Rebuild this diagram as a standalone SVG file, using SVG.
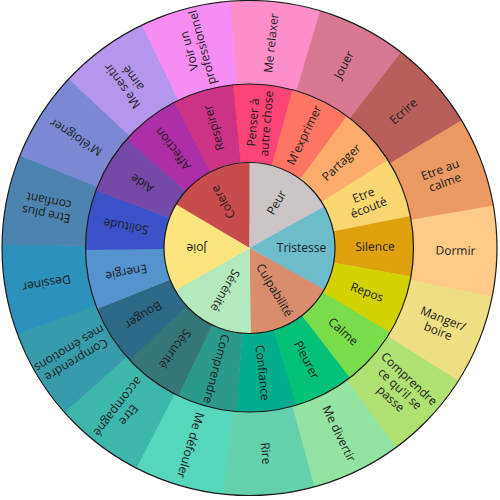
<svg xmlns="http://www.w3.org/2000/svg" width="500" height="500" viewBox="0 0 500 500">
<style>
  circle.i{fill:none;stroke-width:85.5}
  circle.m{fill:none;stroke-width:78.5;stroke-dasharray:46.6 800}
  circle.o{fill:none;stroke-width:83.5;stroke-dasharray:76.6 1300}
  text{font-family:"Open Sans","Noto Sans",sans-serif;font-size:12px;fill:#1b1b1b;text-anchor:middle}
  .ln{fill:none;stroke:#1b1b1b;stroke-width:1.2}
</style>
<rect width="500" height="500" fill="#ffffff"/>

<g id="outer-ring">
  <g id="me-relaxer"><circle class="o" cx="249.5" cy="248" r="205.75" stroke="#fc8fc9" transform="rotate(-94.6 249.5 248)"/><text transform="translate(249.5 248) rotate(-84.01) translate(206 0)" y="4.3">Me relaxer</text></g>
  <g id="jouer"><circle class="o" cx="249.5" cy="248" r="205.75" stroke="#d87893" transform="rotate(-73.42 249.5 248)"/><text transform="translate(249.5 248) rotate(-62.83) translate(206 0)" y="4.3">Jouer</text></g>
  <g id="ecrire"><circle class="o" cx="249.5" cy="248" r="205.75" stroke="#b85f5b" transform="rotate(-52.25 249.5 248)"/><text transform="translate(249.5 248) rotate(-41.66) translate(206 0)" y="4.3">Ecrire</text></g>
  <g id="etre-au-calme"><circle class="o" cx="249.5" cy="248" r="205.75" stroke="#ea9a62" transform="rotate(-31.07 249.5 248)"/><text transform="translate(249.5 248) rotate(-20.48) translate(206 0)"><tspan x="0" y="-2.45">Etre au</tspan><tspan x="0" y="11.05">calme</tspan></text></g>
  <g id="dormir"><circle class="o" cx="249.5" cy="248" r="205.75" stroke="#fdca88" transform="rotate(-9.89 249.5 248)"/><text transform="translate(249.5 248) rotate(0.7) translate(206 0)" y="4.3">Dormir</text></g>
  <g id="manger-boire"><circle class="o" cx="249.5" cy="248" r="205.75" stroke="#efdf84" transform="rotate(11.28 249.5 248)"/><text transform="translate(249.5 248) rotate(21.87) translate(206 0)"><tspan x="0" y="-2.45">Manger/</tspan><tspan x="0" y="11.05">boire</tspan></text></g>
  <g id="comprendre-ce-qu-il-se-passe"><circle class="o" cx="249.5" cy="248" r="205.75" stroke="#b1e173" transform="rotate(32.46 249.5 248)"/><text transform="translate(249.5 248) rotate(43.05) translate(206 0)"><tspan x="0" y="-9.2">Comprendre</tspan><tspan x="0" y="4.3">ce qu'il se</tspan><tspan x="0" y="17.8">passe</tspan></text></g>
  <g id="me-divertir"><circle class="o" cx="249.5" cy="248" r="205.75" stroke="#93e3a2" transform="rotate(53.64 249.5 248)"/><text transform="translate(249.5 248) rotate(64.23) translate(206 0)" y="4.3">Me divertir</text></g>
  <g id="rire"><circle class="o" cx="249.5" cy="248" r="205.75" stroke="#64d1ac" transform="rotate(74.81 249.5 248)"/><text transform="translate(249.5 248) rotate(85.4) translate(206 0)" y="4.3">Rire</text></g>
  <g id="me-defouler"><circle class="o" cx="249.5" cy="248" r="205.75" stroke="#56d7bc" transform="rotate(95.99 249.5 248)"/><text transform="translate(249.5 248) rotate(106.58) translate(206 0)" y="4.3">Me défouler</text></g>
  <g id="etre-accompagne"><circle class="o" cx="249.5" cy="248" r="205.75" stroke="#3eb7ab" transform="rotate(117.16 249.5 248)"/><text transform="translate(249.5 248) rotate(127.75) translate(206 0)"><tspan x="0" y="-2.45">Etre</tspan><tspan x="0" y="11.05">accompagné</tspan></text></g>
  <g id="comprendre-mes-emotions"><circle class="o" cx="249.5" cy="248" r="205.75" stroke="#379bab" transform="rotate(138.34 249.5 248)"/><text transform="translate(249.5 248) rotate(148.93) translate(206 0)"><tspan x="0" y="-2.45">Comprendre</tspan><tspan x="0" y="11.05">mes émotions</tspan></text></g>
  <g id="dessiner"><circle class="o" cx="249.5" cy="248" r="205.75" stroke="#2c91bb" transform="rotate(159.52 249.5 248)"/><text transform="translate(249.5 248) rotate(170.11) translate(206 0)" y="4.3">Dessiner</text></g>
  <g id="etre-plus-confiant"><circle class="o" cx="249.5" cy="248" r="205.75" stroke="#4d83b0" transform="rotate(180.69 249.5 248)"/><text transform="translate(249.5 248) rotate(191.28) translate(206 0)"><tspan x="0" y="-2.45">Etre plus</tspan><tspan x="0" y="11.05">confiant</tspan></text></g>
  <g id="m-eloigner"><circle class="o" cx="249.5" cy="248" r="205.75" stroke="#7b89d5" transform="rotate(201.87 249.5 248)"/><text transform="translate(249.5 248) rotate(212.46) translate(206 0)" y="4.3">M'éloigner</text></g>
  <g id="me-sentir-aime"><circle class="o" cx="249.5" cy="248" r="205.75" stroke="#b497ed" transform="rotate(223.05 249.5 248)"/><text transform="translate(249.5 248) rotate(233.64) translate(206 0)"><tspan x="0" y="-2.45">Me sentir</tspan><tspan x="0" y="11.05">aimé</tspan></text></g>
  <g id="voir-un-professionnel"><circle class="o" cx="249.5" cy="248" r="205.75" stroke="#f68ef6" transform="rotate(244.22 249.5 248)"/><text transform="translate(249.5 248) rotate(254.81) translate(206 0)"><tspan x="0" y="-2.45">Voir un</tspan><tspan x="0" y="11.05">professionnel</tspan></text></g>
</g>

<g id="middle-ring">
  <g id="penser-a-autre-chose"><circle class="m" cx="249.5" cy="248" r="124.75" stroke="#fd4477" transform="rotate(-96 249.5 248)"/><text transform="translate(249.5 248) rotate(-85.41) translate(125.5 0)"><tspan x="0" y="-2.45">Penser à</tspan><tspan x="0" y="11.05">autre chose</tspan></text></g>
  <g id="m-exprimer"><circle class="m" cx="249.5" cy="248" r="124.75" stroke="#ff7563" transform="rotate(-74.82 249.5 248)"/><text transform="translate(249.5 248) rotate(-64.23) translate(125.5 0)" y="4.3">M'exprimer</text></g>
  <g id="partager"><circle class="m" cx="249.5" cy="248" r="124.75" stroke="#fdac6d" transform="rotate(-53.65 249.5 248)"/><text transform="translate(249.5 248) rotate(-43.06) translate(125.5 0)" y="4.3">Partager</text></g>
  <g id="etre-ecoute"><circle class="m" cx="249.5" cy="248" r="124.75" stroke="#fbd771" transform="rotate(-32.47 249.5 248)"/><text transform="translate(249.5 248) rotate(-21.88) translate(125.5 0)"><tspan x="0" y="-2.45">Etre</tspan><tspan x="0" y="11.05">écouté</tspan></text></g>
  <g id="silence"><circle class="m" cx="249.5" cy="248" r="124.75" stroke="#e0a10f" transform="rotate(-11.29 249.5 248)"/><text transform="translate(249.5 248) rotate(-0.7) translate(125.5 0)" y="4.3">Silence</text></g>
  <g id="repos"><circle class="m" cx="249.5" cy="248" r="124.75" stroke="#d3d100" transform="rotate(9.88 249.5 248)"/><text transform="translate(249.5 248) rotate(20.47) translate(125.5 0)" y="4.3">Repos</text></g>
  <g id="calme"><circle class="m" cx="249.5" cy="248" r="124.75" stroke="#79dc4a" transform="rotate(31.06 249.5 248)"/><text transform="translate(249.5 248) rotate(41.65) translate(125.5 0)" y="4.3">Calme</text></g>
  <g id="pleurer"><circle class="m" cx="249.5" cy="248" r="124.75" stroke="#03c277" transform="rotate(52.24 249.5 248)"/><text transform="translate(249.5 248) rotate(62.83) translate(125.5 0)" y="4.3">Pleurer</text></g>
  <g id="confiance"><circle class="m" cx="249.5" cy="248" r="124.75" stroke="#03ad8e" transform="rotate(73.41 249.5 248)"/><text transform="translate(249.5 248) rotate(84) translate(125.5 0)" y="4.3">Confiance</text></g>
  <g id="comprendre"><circle class="m" cx="249.5" cy="248" r="124.75" stroke="#2b9a8b" transform="rotate(94.59 249.5 248)"/><text transform="translate(249.5 248) rotate(105.18) translate(125.5 0)" y="4.3">Comprendre</text></g>
  <g id="securite"><circle class="m" cx="249.5" cy="248" r="124.75" stroke="#357677" transform="rotate(115.76 249.5 248)"/><text transform="translate(249.5 248) rotate(126.35) translate(125.5 0)" y="4.3">Sécurité</text></g>
  <g id="bouger"><circle class="m" cx="249.5" cy="248" r="124.75" stroke="#2c6a88" transform="rotate(136.94 249.5 248)"/><text transform="translate(249.5 248) rotate(147.53) translate(125.5 0)" y="4.3">Bouger</text></g>
  <g id="energie"><circle class="m" cx="249.5" cy="248" r="124.75" stroke="#5593cf" transform="rotate(158.12 249.5 248)"/><text transform="translate(249.5 248) rotate(168.71) translate(125.5 0)" y="4.3">Energie</text></g>
  <g id="solitude"><circle class="m" cx="249.5" cy="248" r="124.75" stroke="#3b52c9" transform="rotate(179.29 249.5 248)"/><text transform="translate(249.5 248) rotate(189.88) translate(125.5 0)" y="4.3">Solitude</text></g>
  <g id="aide"><circle class="m" cx="249.5" cy="248" r="124.75" stroke="#7549a8" transform="rotate(200.47 249.5 248)"/><text transform="translate(249.5 248) rotate(211.06) translate(125.5 0)" y="4.3">Aide</text></g>
  <g id="affection"><circle class="m" cx="249.5" cy="248" r="124.75" stroke="#ae2ea5" transform="rotate(221.65 249.5 248)"/><text transform="translate(249.5 248) rotate(232.24) translate(125.5 0)" y="4.3">Affection</text></g>
  <g id="respirer"><circle class="m" cx="249.5" cy="248" r="124.75" stroke="#cd3385" transform="rotate(242.82 249.5 248)"/><text transform="translate(249.5 248) rotate(253.41) translate(125.5 0)" y="4.3">Respirer</text></g>
</g>

<g id="inner-ring">
  <g id="colere"><circle class="i" cx="249.5" cy="248" r="42.75" stroke="#c94c4c" stroke-dasharray="45.2 270" transform="rotate(210 249.5 248)"/><text transform="translate(249.5 248) rotate(-120) translate(53 0)" y="4.3">Colere</text></g>
  <g id="peur"><circle class="i" cx="249.5" cy="248" r="42.75" stroke="#cbc5c5" stroke-dasharray="45.9 270" transform="rotate(-90 249.5 248)"/><text transform="translate(249.5 248) rotate(-59.5) translate(53 0)" y="4.3">Peur</text></g>
  <g id="tristesse"><circle class="i" cx="249.5" cy="248" r="42.75" stroke="#6cbccb" stroke-dasharray="43.7 270" transform="rotate(-29 249.5 248)"/><text transform="translate(249.5 248) rotate(0) translate(52 0)" y="4.3">Tristesse</text></g>
  <g id="culpabilite"><circle class="i" cx="249.5" cy="248" r="42.75" stroke="#d98d6c" stroke-dasharray="45.2 270" transform="rotate(29 249.5 248)"/><text transform="translate(249.5 248) rotate(59) translate(49 0)" y="4.3">Culpabilité</text></g>
  <g id="serenite"><circle class="i" cx="249.5" cy="248" r="42.75" stroke="#b2e9bd" stroke-dasharray="45.9 270" transform="rotate(89 249.5 248)"/><text transform="translate(249.5 248) rotate(119.5) translate(49 0)" y="4.3">Sérénité</text></g>
  <g id="joie"><circle class="i" cx="249.5" cy="248" r="42.75" stroke="#fce47e" stroke-dasharray="45.2 270" transform="rotate(150 249.5 248)"/><text transform="translate(249.5 248) rotate(180) translate(53 0)" y="4.3">Joie</text></g>
</g>

<g id="ring-borders">
  <circle class="ln" cx="249.5" cy="248" r="85.5"/>
  <circle class="ln" cx="249.5" cy="248" r="164"/>
  <circle class="ln" cx="249.5" cy="248" r="247.5"/>
</g>
</svg>
